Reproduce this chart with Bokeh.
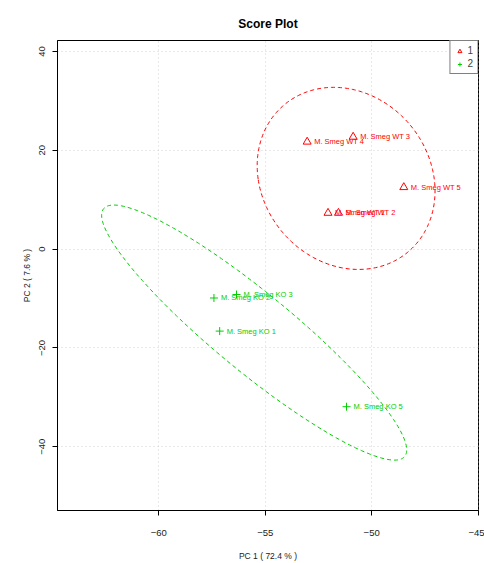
import numpy as np
from bokeh.plotting import figure
from bokeh.models import Range1d, FixedTicker, Legend, LegendItem, ColumnDataSource, Title
from bokeh.embed import file_html
from bokeh.resources import INLINE
from bokeh.core.properties import value

# ---- data ----
wt_names = ["M. Smeg WT 1", "M. Smeg WT 2", "M. Smeg WT 3", "M. Smeg WT 4", "M. Smeg WT 5"]
wt_pc1 = [-52.05, -51.56, -50.87, -53.03, -48.49]
wt_pc2 = [7.3, 7.3, 22.7, 21.7, 12.5]

ko_names = ["M. Smeg KO 1", "M. Smeg KO 2", "M. Smeg KO 3", "M. Smeg KO 5"]
ko_pc1 = [-57.14, -57.41, -56.35, -51.18]
ko_pc2 = [-16.6, -9.9, -9.2, -31.9]

group_labels = ["1", "2"]
x_ticks = [-60, -55, -50, -45]
y_ticks = [-40, -20, 0, 20, 40]
x_limits = (-64.76, -44.98)
y_limits = (-52.9, 42.2)
chi2_95_df2 = 5.991464547  # 95% level, 2 d.f.

RED = "#FF0000"
GREEN = "#00CD00"
FONT = "Liberation Sans"


def conf_ellipse(x, y, n=240):
    x = np.asarray(x, float)
    y = np.asarray(y, float)
    cov = np.cov(x, y)
    vals, vecs = np.linalg.eigh(cov)
    t = np.linspace(0, 2 * np.pi, n)
    circ = np.vstack([np.cos(t), np.sin(t)])
    pts = vecs @ (np.sqrt(vals * chi2_95_df2)[:, None] * circ)
    return x.mean() + pts[0], y.mean() + pts[1]


p = figure(width=484, height=563, output_backend="svg", toolbar_location=None,
           x_range=Range1d(*x_limits), y_range=Range1d(*y_limits))
p.min_border_left = 57
p.min_border_right = 6
p.min_border_top = 40
p.min_border_bottom = 52

p.title = Title(text="Score Plot", align="center", text_font=FONT,
                text_font_size="12px", text_font_style="bold", text_color="#000000",
                standoff=19)

p.outline_line_color = "#000000"
p.outline_line_width = 1
p.background_fill_color = "white"
p.border_fill_color = "white"

for ax in (p.xaxis[0], p.yaxis[0]):
    ax.axis_line_color = "#000000"
    ax.major_tick_line_color = "#000000"
    ax.major_tick_in = 0
    ax.major_tick_out = 5
    ax.minor_tick_line_color = None
    ax.major_label_text_font = FONT
    ax.major_label_text_font_size = "9.5px"
    ax.major_label_text_color = "#222222"
    ax.axis_label_text_font = FONT
    ax.axis_label_text_font_size = "8.5px"
    ax.axis_label_text_font_style = "normal"
    ax.axis_label_text_color = "#222222"

p.xaxis[0].ticker = FixedTicker(ticks=x_ticks)
p.yaxis[0].ticker = FixedTicker(ticks=y_ticks)
p.xaxis[0].axis_label = "PC 1 ( 72.4 % )"
p.yaxis[0].axis_label = "PC 2 ( 7.6 % )"
p.yaxis[0].major_label_orientation = "vertical"
p.xaxis[0].major_label_standoff = 14
p.xaxis[0].axis_label_standoff = 12
p.yaxis[0].major_label_standoff = 7
p.yaxis[0].axis_label_standoff = 5

for g in (p.xgrid[0], p.ygrid[0]):
    g.grid_line_color = "#D3D3D3"
    g.grid_line_dash = "1 3"
    g.grid_line_width = 1
p.xgrid[0].ticker = FixedTicker(ticks=x_ticks)
p.ygrid[0].ticker = FixedTicker(ticks=y_ticks)

# 95% confidence ellipses computed from each group's scores
ex, ey = conf_ellipse(wt_pc1, wt_pc2)
p.line(ex, ey, line_color=RED, line_dash="4 3", line_width=1)
ex, ey = conf_ellipse(ko_pc1, ko_pc2)
p.line(ex, ey, line_color=GREEN, line_dash="4 3", line_width=1)

wt_src = ColumnDataSource(dict(x=wt_pc1, y=wt_pc2, name=wt_names))
ko_src = ColumnDataSource(dict(x=ko_pc1, y=ko_pc2, name=ko_names))

r_wt = p.scatter("x", "y", source=wt_src, marker="triangle", size=8,
                 line_color=RED, fill_alpha=0, line_width=1)
r_ko = p.scatter("x", "y", source=ko_src, marker="cross", size=8,
                 line_color=GREEN, line_width=1)

p.text("x", "y", text="name", source=wt_src, x_offset=7, text_align="left",
       text_baseline="middle", text_font=value(FONT), text_font_size="7.5px",
       text_color=RED)
p.text("x", "y", text="name", source=ko_src, x_offset=7, text_align="left",
       text_baseline="middle", text_font=value(FONT), text_font_size="7.5px",
       text_color=GREEN)

legend = Legend(items=[LegendItem(label=group_labels[0], renderers=[r_wt]),
                       LegendItem(label=group_labels[1], renderers=[r_ko])],
                location="top_right", margin=0, padding=4, spacing=2,
                glyph_width=10, glyph_height=10, label_standoff=3,
                label_width=5, label_height=10,
                label_text_font=FONT, label_text_font_size="10px",
                border_line_color="#000000", border_line_width=1,
                background_fill_alpha=1)
p.add_layout(legend)

open("out.html", "w").write(file_html(p, INLINE))
